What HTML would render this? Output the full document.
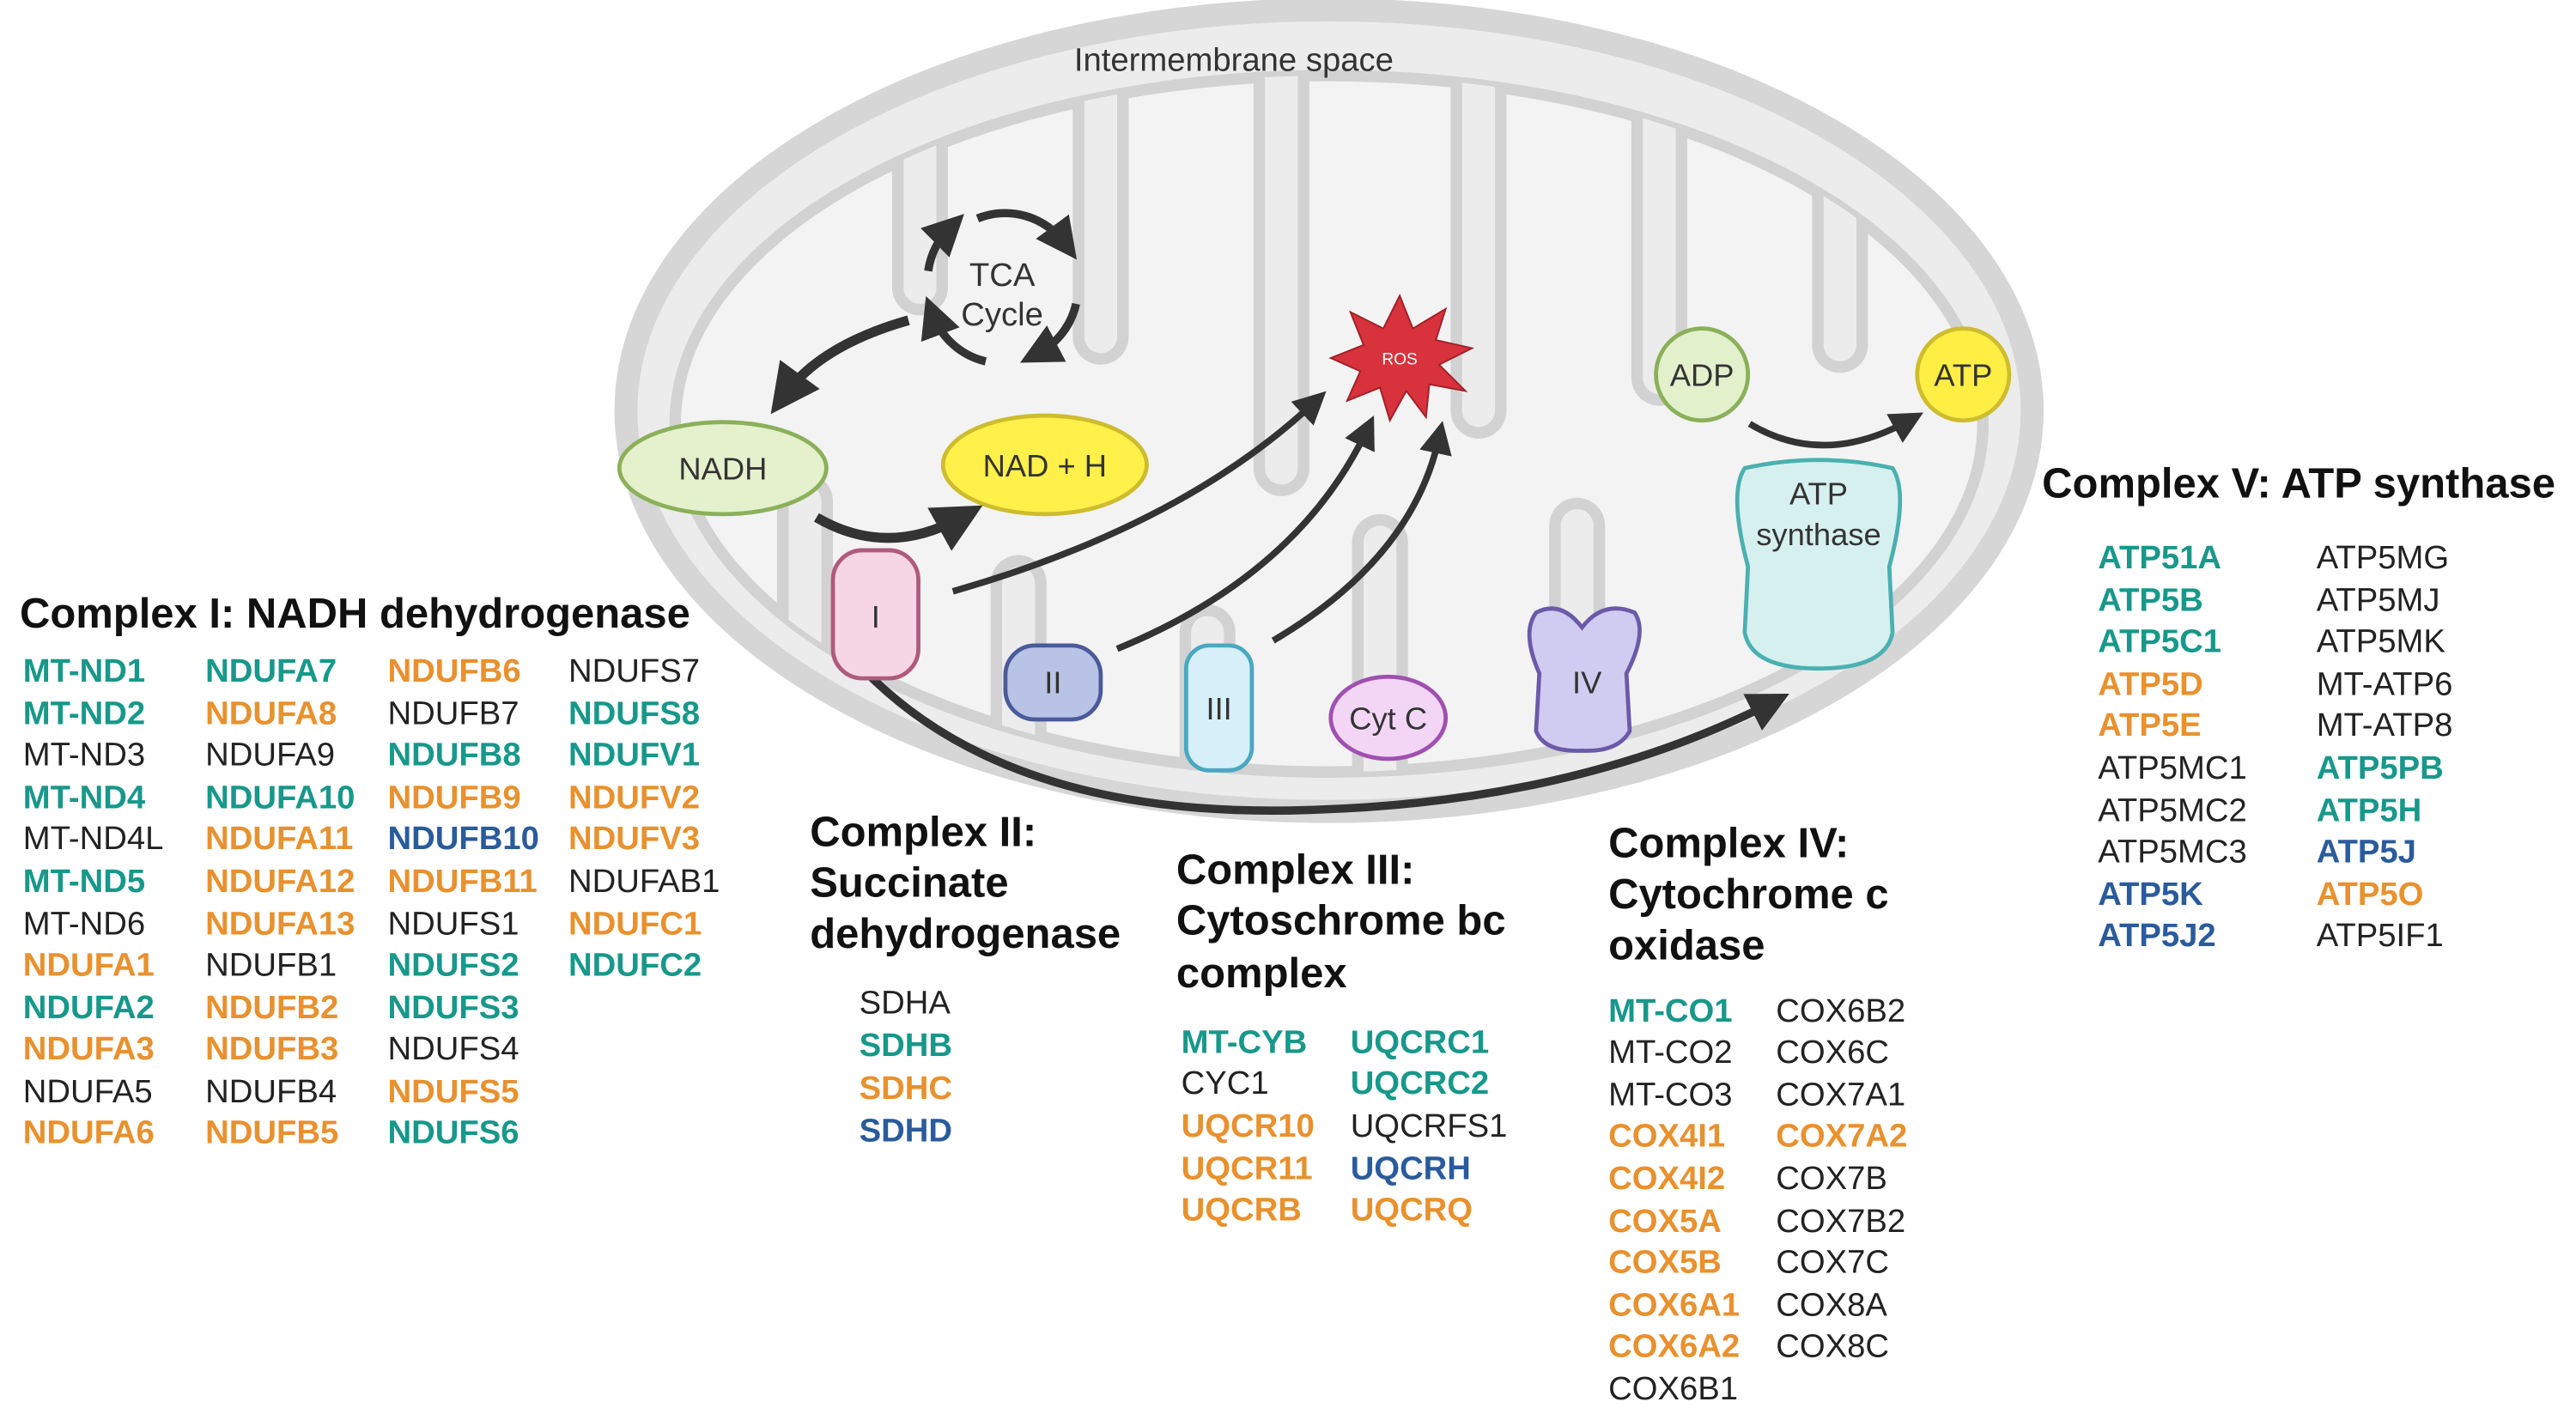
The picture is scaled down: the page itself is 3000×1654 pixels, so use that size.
<!DOCTYPE html>
<html><head><meta charset="utf-8"><style>
html,body{margin:0;padding:0;background:#fff;}
svg{display:block}
text{font-family:"Liberation Sans",sans-serif;}
.g{font-size:20px}
.t{fill:#17988a;font-weight:bold}
.o{fill:#e8912e;font-weight:bold}
.b{fill:#2a5b9c;font-weight:bold}
.k{fill:#222}
.h{font-size:25.6px;font-weight:bold;fill:#111}
.l{font-size:19px;fill:#333;text-anchor:middle}
</style></head><body>
<svg width="3000" height="1654" viewBox="0 0 1568 864.5" xmlns="http://www.w3.org/2000/svg">
<defs>
<marker id="ah" markerWidth="5" markerHeight="5" refX="2.5" refY="2.5" orient="auto" markerUnits="strokeWidth">
<path d="M0,0 L5,2.5 L0,5 Z" fill="#333"/></marker>
<clipPath id="ci"><ellipse cx="809" cy="258" rx="398" ry="212"/></clipPath>
</defs>
<!-- mitochondrion -->
<ellipse cx="809" cy="250" rx="428" ry="244" fill="#ececec" stroke="#d6d6d6" stroke-width="14"/>
<ellipse cx="809" cy="258" rx="398" ry="212" fill="#f3f3f3" stroke="#d2d2d2" stroke-width="7"/>
<g fill="none" stroke-linecap="round" clip-path="url(#ci)">
<g stroke="#d2d2d2" stroke-width="34">
<path d="M560 20 L560 175"/><path d="M670 20 L670 205"/><path d="M780 20 L780 285"/><path d="M900 20 L900 250"/><path d="M1010 20 L1010 230"/><path d="M1120 20 L1120 210"/>
<path d="M490 500 L490 305"/><path d="M620 500 L620 355"/><path d="M735 500 L735 385"/><path d="M840 500 L840 330"/><path d="M960 500 L960 320"/><path d="M1110 500 L1110 380"/>
</g>
<g stroke="#ececec" stroke-width="20">
<path d="M560 20 L560 175"/><path d="M670 20 L670 205"/><path d="M780 20 L780 285"/><path d="M900 20 L900 250"/><path d="M1010 20 L1010 230"/><path d="M1120 20 L1120 210"/>
<path d="M490 500 L490 305"/><path d="M620 500 L620 355"/><path d="M735 500 L735 385"/><path d="M840 500 L840 330"/><path d="M960 500 L960 320"/><path d="M1110 500 L1110 380"/>
</g>
</g>
<text x="751" y="43" class="l" style="font-size:20px">Intermembrane space</text>
<!-- TCA -->
<g fill="none" stroke="#333" stroke-width="5" marker-end="url(#ah)">
<path d="M595 133 A45 45 0 0 1 648 148"/>
<path d="M655 185 A45 45 0 0 1 632 215"/>
<path d="M600 220 A45 45 0 0 1 568 192"/>
<path d="M565 165 A45 45 0 0 1 578 139"/>
</g>
<text x="610" y="174" class="l" style="font-size:20px">TCA</text>
<text x="610" y="198" class="l" style="font-size:20px">Cycle</text>
<path d="M553 195 Q500 210 478 240" fill="none" stroke="#333" stroke-width="6" marker-end="url(#ah)"/>
<!-- NADH / NAD+H -->
<ellipse cx="440" cy="285" rx="63" ry="28" fill="#e4f1cc" stroke="#8bb05a" stroke-width="2.5"/>
<text x="440" y="292" class="l">NADH</text>
<ellipse cx="636" cy="283" rx="62" ry="30" fill="#fff04a" stroke="#cdbd2e" stroke-width="2.5"/>
<text x="636" y="290" class="l">NAD + H</text>
<path d="M497 315 Q540 340 585 315" fill="none" stroke="#333" stroke-width="6" marker-end="url(#ah)"/>
<!-- ROS -->
<polygon points="852,180 860,200 880,188 874,207 896,212 876,222 892,238 870,234 868,254 856,238 846,256 840,236 820,244 828,226 810,218 830,210 822,190 842,200" fill="#d8323c" stroke="#a02028" stroke-width="1"/>
<text x="852" y="222" class="l" style="font-size:10px;fill:#fff">ROS</text>
<!-- arrows to ROS -->
<g fill="none" stroke="#333" stroke-width="4" marker-end="url(#ah)">
<path d="M580 360 Q720 320 800 245"/>
<path d="M680 395 Q790 350 832 262"/>
<path d="M775 390 Q860 340 876 266"/>
<path d="M1065 258 Q1110 285 1162 256"/>
</g>
<path d="M530 412 Q620 500 800 493 Q960 488 1078 428" fill="none" stroke="#333" stroke-width="5" marker-end="url(#ah)"/>
<!-- complexes -->
<rect x="507" y="335" width="52" height="78" rx="18" fill="#f6d6e4" stroke="#b05a7c" stroke-width="2.5"/>
<text x="533" y="382" class="l">I</text>
<rect x="612" y="393" width="58" height="45" rx="18" fill="#b9c3e6" stroke="#4a5a9a" stroke-width="2.5"/>
<text x="641" y="422" class="l">II</text>
<rect x="722" y="393" width="40" height="76" rx="14" fill="#d6eff8" stroke="#4aa8c0" stroke-width="2.5"/>
<text x="742" y="438" class="l">III</text>
<ellipse cx="845" cy="437" rx="35" ry="25" fill="#f3d6f6" stroke="#a050b0" stroke-width="2.5"/>
<text x="845" y="444" class="l">Cyt C</text>
<path d="M935 373 Q950 365 963 382 Q976 365 995 373 Q1003 385 990 410 L992 445 Q985 458 963 457 Q940 458 935 445 L937 410 Q926 385 935 373 Z" fill="#d0cbf1" stroke="#6a5aa8" stroke-width="2.5"/>
<text x="966" y="422" class="l">IV</text>
<path d="M1062 285 Q1107 275 1152 285 Q1162 300 1150 345 L1152 385 Q1148 407 1107 407 Q1066 407 1062 385 L1064 345 Q1052 300 1062 285 Z" fill="#d6f0ef" stroke="#4ab0b0" stroke-width="2.5"/>
<text x="1107" y="307" class="l">ATP</text>
<text x="1107" y="332" class="l">synthase</text>
<circle cx="1036" cy="228" r="28" fill="#e2f1cc" stroke="#8bb05a" stroke-width="2.5"/>
<text x="1036" y="235" class="l">ADP</text>
<circle cx="1195" cy="228" r="28" fill="#ffee44" stroke="#cdbd2e" stroke-width="2.5"/>
<text x="1195" y="235" class="l">ATP</text>

<!-- Complex I -->
<text x="12" y="382" class="h">Complex I: NADH dehydrogenase</text>
<g class="g">
<text x="14" y="415" class="t">MT-ND1</text><text x="14" y="441" class="t">MT-ND2</text><text x="14" y="466" class="k">MT-ND3</text><text x="14" y="492" class="t">MT-ND4</text><text x="14" y="517" class="k">MT-ND4L</text><text x="14" y="543" class="t">MT-ND5</text><text x="14" y="569" class="k">MT-ND6</text><text x="14" y="594" class="o">NDUFA1</text><text x="14" y="620" class="t">NDUFA2</text><text x="14" y="645" class="o">NDUFA3</text><text x="14" y="671" class="k">NDUFA5</text><text x="14" y="696" class="o">NDUFA6</text>
<text x="125" y="415" class="t">NDUFA7</text><text x="125" y="441" class="o">NDUFA8</text><text x="125" y="466" class="k">NDUFA9</text><text x="125" y="492" class="t">NDUFA10</text><text x="125" y="517" class="o">NDUFA11</text><text x="125" y="543" class="o">NDUFA12</text><text x="125" y="569" class="o">NDUFA13</text><text x="125" y="594" class="k">NDUFB1</text><text x="125" y="620" class="o">NDUFB2</text><text x="125" y="645" class="o">NDUFB3</text><text x="125" y="671" class="k">NDUFB4</text><text x="125" y="696" class="o">NDUFB5</text>
<text x="236" y="415" class="o">NDUFB6</text><text x="236" y="441" class="k">NDUFB7</text><text x="236" y="466" class="t">NDUFB8</text><text x="236" y="492" class="o">NDUFB9</text><text x="236" y="517" class="b">NDUFB10</text><text x="236" y="543" class="o">NDUFB11</text><text x="236" y="569" class="k">NDUFS1</text><text x="236" y="594" class="t">NDUFS2</text><text x="236" y="620" class="t">NDUFS3</text><text x="236" y="645" class="k">NDUFS4</text><text x="236" y="671" class="o">NDUFS5</text><text x="236" y="696" class="t">NDUFS6</text>
<text x="346" y="415" class="k">NDUFS7</text><text x="346" y="441" class="t">NDUFS8</text><text x="346" y="466" class="t">NDUFV1</text><text x="346" y="492" class="o">NDUFV2</text><text x="346" y="517" class="o">NDUFV3</text><text x="346" y="543" class="k">NDUFAB1</text><text x="346" y="569" class="o">NDUFC1</text><text x="346" y="594" class="t">NDUFC2</text>
</g>
<!-- Complex II -->
<text x="493" y="515" class="h">Complex II:</text>
<text x="493" y="546" class="h">Succinate</text>
<text x="493" y="577" class="h">dehydrogenase</text>
<g class="g">
<text x="523" y="617" class="k">SDHA</text><text x="523" y="643" class="t">SDHB</text><text x="523" y="669" class="o">SDHC</text><text x="523" y="695" class="b">SDHD</text>
</g>
<!-- Complex III -->
<text x="716" y="538" class="h">Complex III:</text>
<text x="716" y="569" class="h">Cytoschrome bc</text>
<text x="716" y="601" class="h">complex</text>
<g class="g">
<text x="719" y="641" class="t">MT-CYB</text><text x="719" y="666" class="k">CYC1</text><text x="719" y="692" class="o">UQCR10</text><text x="719" y="718" class="o">UQCR11</text><text x="719" y="743" class="o">UQCRB</text>
<text x="822" y="641" class="t">UQCRC1</text><text x="822" y="666" class="t">UQCRC2</text><text x="822" y="692" class="k">UQCRFS1</text><text x="822" y="718" class="b">UQCRH</text><text x="822" y="743" class="o">UQCRQ</text>
</g>
<!-- Complex IV -->
<text x="979" y="522" class="h">Complex IV:</text>
<text x="979" y="553" class="h">Cytochrome c</text>
<text x="979" y="584" class="h">oxidase</text>
<g class="g">
<text x="979" y="622" class="t">MT-CO1</text><text x="979" y="647" class="k">MT-CO2</text><text x="979" y="673" class="k">MT-CO3</text><text x="979" y="698" class="o">COX4I1</text><text x="979" y="724" class="o">COX4I2</text><text x="979" y="750" class="o">COX5A</text><text x="979" y="775" class="o">COX5B</text><text x="979" y="801" class="o">COX6A1</text><text x="979" y="826" class="o">COX6A2</text><text x="979" y="852" class="k">COX6B1</text>
<text x="1081" y="622" class="k">COX6B2</text><text x="1081" y="647" class="k">COX6C</text><text x="1081" y="673" class="k">COX7A1</text><text x="1081" y="698" class="o">COX7A2</text><text x="1081" y="724" class="k">COX7B</text><text x="1081" y="750" class="k">COX7B2</text><text x="1081" y="775" class="k">COX7C</text><text x="1081" y="801" class="k">COX8A</text><text x="1081" y="826" class="k">COX8C</text>
</g>
<!-- Complex V -->
<text x="1243" y="303" class="h">Complex V: ATP synthase</text>
<g class="g">
<text x="1277" y="346" class="t">ATP51A</text><text x="1277" y="372" class="t">ATP5B</text><text x="1277" y="397" class="t">ATP5C1</text><text x="1277" y="423" class="o">ATP5D</text><text x="1277" y="448" class="o">ATP5E</text><text x="1277" y="474" class="k">ATP5MC1</text><text x="1277" y="500" class="k">ATP5MC2</text><text x="1277" y="525" class="k">ATP5MC3</text><text x="1277" y="551" class="b">ATP5K</text><text x="1277" y="576" class="b">ATP5J2</text>
<text x="1410" y="346" class="k">ATP5MG</text><text x="1410" y="372" class="k">ATP5MJ</text><text x="1410" y="397" class="k">ATP5MK</text><text x="1410" y="423" class="k">MT-ATP6</text><text x="1410" y="448" class="k">MT-ATP8</text><text x="1410" y="474" class="t">ATP5PB</text><text x="1410" y="500" class="t">ATP5H</text><text x="1410" y="525" class="b">ATP5J</text><text x="1410" y="551" class="o">ATP5O</text><text x="1410" y="576" class="k">ATP5IF1</text>
</g>
</svg>
</body></html>
